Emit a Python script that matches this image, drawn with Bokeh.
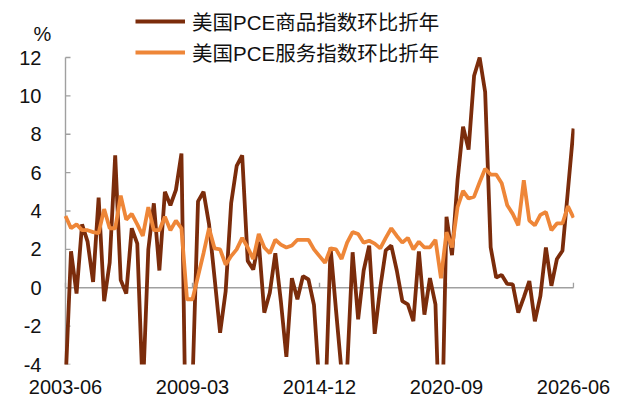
from bokeh.plotting import figure
from bokeh.models import Range1d, FixedTicker, Legend, LegendItem
from bokeh.core.properties import value
from bokeh.embed import file_html
from bokeh.resources import INLINE

# ---- data (quarterly, 2003-06 .. 2026-06) ----
tick_pos = [0, 23, 46, 69, 92]
tick_labels = ["2003-06", "2009-03", "2014-12", "2020-09", "2026-06"]
y_ticks = [-4, -2, 0, 2, 4, 6, 8, 10, 12]
series_names = ["美国PCE商品指数环比折年", "美国PCE服务指数环比折年"]
unit_label = "%"

goods = [-5.0, 1.9, -0.3, 3.3, 2.4, 0.3, 4.7, -0.7, 1.3, 6.9,
         0.4, -0.3, 3.1, 2.3, -5.5, 2.0, 4.4, 0.9, 5.0, 4.3,
         5.1, 7.0, -12.0, -5.0, 4.5, 5.0, 3.3, 0.5, -2.35, -0.2,
         4.4, 6.35, 6.9, 1.4, 0.95, 2.4, -1.3, -0.26, 1.8, -0.7,
         -3.6, 0.5, -0.6, 0.6, 0.43, -0.9, -5.2, -6.5, 2.1, -1.2,
         -4.4, -4.3, 1.85, -1.65, 0.9, 2.2, -2.4, 0.0, 1.95, 2.2,
         0.9, -0.7, -0.87, -1.74, 1.9, -1.4, 0.5, -0.87, -10.0, 3.7,
         1.7, 5.6, 8.4, 7.2, 11.05, 12.0, 10.2, 2.1, 0.53, 0.67,
         0.2, 0.18, -1.3, -0.5, 0.35, -1.75, -0.44, 2.1, 0.1, 1.5,
         1.93, 5.1, 8.3]

services = [3.74, 3.1, 3.3, 3.0, 3.0, 2.9, 2.85, 4.1, 3.1, 3.1,
            4.8, 3.55, 3.85, 3.3, 2.7, 4.2, 3.0, 3.0, 3.7, 3.0,
            3.5, 3.1, -0.6, -0.6, 0.6, 1.8, 3.1, 2.05, 2.0, 1.2,
            1.65, 2.0, 2.6, 2.1, 1.5, 2.8, 2.1, 1.8, 2.5, 2.25,
            2.1, 2.2, 2.5, 2.5, 2.5, 2.0, 1.65, 1.3, 2.05, 2.0,
            1.5, 2.35, 2.9, 2.8, 2.35, 2.45, 2.3, 2.05, 2.6, 3.1,
            2.7, 2.35, 2.6, 2.0, 2.4, 2.1, 2.1, 2.5, 0.5, 2.9,
            2.1, 4.2, 5.05, 4.65, 4.75, 5.5, 6.2, 5.9, 5.9, 5.45,
            4.3, 3.85, 3.25, 5.6, 3.5, 3.25, 3.8, 3.95, 3.0, 3.35,
            3.35, 4.25, 3.65]

x = list(range(len(goods)))

# ---- styling / layout constants (pixels) ----
FONT = "Liberation Sans, Noto Sans CJK SC"
TXT = "#111111"
AX = "#A0A0A0"
C_GOODS = "#7B2C0B"
C_SERV = "#EE8638"

W, H = 633, 404
FRAME_L, FRAME_R = 28, 574        # frame edges
AXIS_X0, AXIS_X1 = 65, 573        # pixel of first / last quarter
FRAME_B = 364                     # pixel of y = -4
Y12_PX = 57                       # pixel of y = 12
px_x = (AXIS_X1 - AXIS_X0) / (tick_pos[-1] - tick_pos[0])
px_y = (FRAME_B - Y12_PX) / (y_ticks[-1] - y_ticks[0])
x_start = tick_pos[0] - (AXIS_X0 - FRAME_L) / px_x
x_end = tick_pos[-1] + (FRAME_R - AXIS_X1) / px_x
y_top = y_ticks[-1] + Y12_PX / px_y
tick_len = 5

p = figure(width=W, height=H, output_backend="svg", toolbar_location=None,
           x_range=Range1d(x_start, x_end),
           y_range=Range1d(y_ticks[0], y_top),
           min_border_left=FRAME_L, min_border_right=W - FRAME_R,
           min_border_top=0, min_border_bottom=H - FRAME_B)
p.outline_line_color = None
p.xgrid.visible = False
p.ygrid.visible = False
p.background_fill_color = "white"
p.border_fill_color = "white"

# axis rules (zero line for x, left rule for y) with inward ticks
p.segment(x0=[tick_pos[0]], y0=[0], x1=[tick_pos[-1]], y1=[0],
          line_color=AX, line_width=1.4)
p.segment(x0=tick_pos, y0=[0] * len(tick_pos), x1=tick_pos,
          y1=[tick_len / px_y] * len(tick_pos), line_color=AX, line_width=1.4)
p.segment(x0=[tick_pos[0]], y0=[y_ticks[0]], x1=[tick_pos[0]], y1=[y_ticks[-1]],
          line_color=AX, line_width=1.4)
p.segment(x0=[tick_pos[0]] * len(y_ticks), y0=y_ticks,
          x1=[tick_pos[0] + tick_len / px_x] * len(y_ticks), y1=y_ticks,
          line_color=AX, line_width=1.4)

r1 = p.line(x, goods, line_color=C_GOODS, line_width=3.8)
r2 = p.line(x, services, line_color=C_SERV, line_width=3.8)

# y axis (labels only); labels sit right of the frame edge, next to the rule
ya = p.yaxis[0]
ya.ticker = FixedTicker(ticks=y_ticks)
ya.major_label_overrides = {v: str(v) for v in y_ticks}
ya.axis_line_color = None
ya.major_tick_line_color = None
ya.minor_tick_line_color = None
ya.major_tick_in = 0
ya.major_tick_out = 0
ya.major_label_standoff = FRAME_L - 41
ya.major_label_text_font = FONT
ya.major_label_text_font_size = "20px"
ya.major_label_text_color = TXT

# x axis (labels only)
xa = p.xaxis[0]
xa.ticker = FixedTicker(ticks=tick_pos)
xa.major_label_overrides = dict(zip(tick_pos, tick_labels))
xa.axis_line_color = None
xa.major_tick_line_color = None
xa.minor_tick_line_color = None
xa.major_tick_in = 0
xa.major_tick_out = 0
xa.major_label_standoff = 15
xa.major_label_text_font = FONT
xa.major_label_text_font_size = "20px"
xa.major_label_text_color = TXT

# unit label "%" above the y labels
p.text(x=[tick_pos[0] - 23 / px_x], y=[y_ticks[-1] + 24 / px_y], text=[unit_label],
       text_align="center", text_baseline="middle", text_font=value(FONT),
       text_font_size="20px", text_color=TXT)

# legend
legend = Legend(items=[LegendItem(label=series_names[0], renderers=[r1]),
                       LegendItem(label=series_names[1], renderers=[r2])],
                location=(135 - FRAME_L, 297))
legend.padding = 0
legend.margin = 0
legend.border_line_color = None
legend.background_fill_alpha = 0
legend.glyph_width = 50
legend.glyph_height = 22
legend.label_height = 22
legend.spacing = 1
legend.label_standoff = 7
legend.label_text_font = FONT
legend.label_text_font_size = "20.5px"
legend.label_text_color = TXT
p.add_layout(legend, "center")

open("out.html", "w").write(file_html(p, INLINE))
